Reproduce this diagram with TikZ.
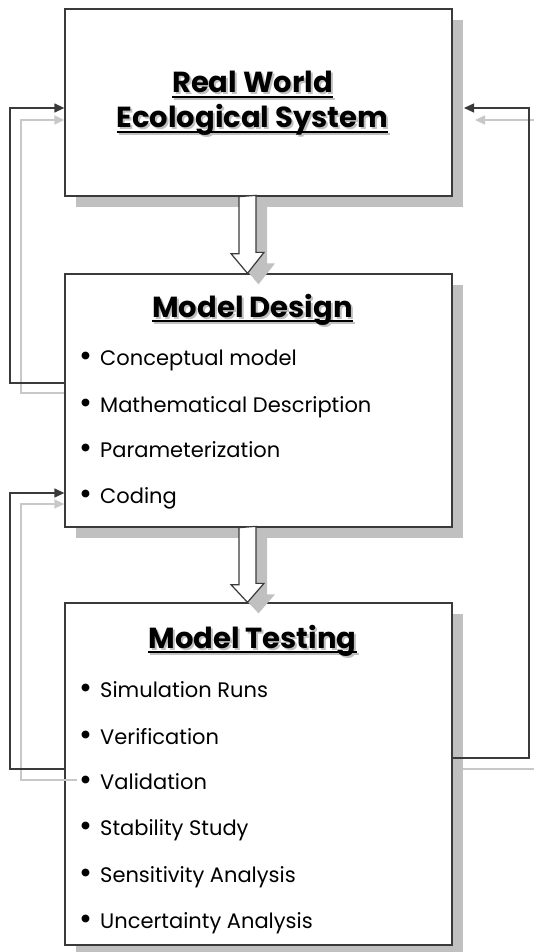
\documentclass[tikz,border=0pt]{standalone}
\usepackage{fontspec}
\setmainfont{Poppins}
\usetikzlibrary{arrows.meta,shadows}
\definecolor{shd}{HTML}{C0C0C0}
\definecolor{lgr}{HTML}{C8C8C8}
\definecolor{edge}{HTML}{3A3A3A}
\newcommand\ulttl[1]{\setbox0\hbox{#1}\rlap{\rule[-5pt]{\wd0}{2.2pt}}\box0}
\newcommand\shttl[1]{\rlap{\hspace{2pt}\raisebox{-2pt}{\color{shd}\ulttl{#1}}}\ulttl{#1}}
\newcommand\bul{\llap{\raisebox{-1.2pt}{\scalebox{1.5}{\textbullet}}\hspace{8pt}}}
\begin{document}
\begin{tikzpicture}[x=1pt,y=-1pt,
  box/.style={draw=edge,line width=1.3pt,fill=white,minimum width=387pt,inner sep=0pt,
    drop shadow={shadow xshift=11pt,shadow yshift=-11pt,fill=shd,opacity=1,draw=none}},
  hollow/.style={draw=edge,line width=1.2pt,fill=white,
    drop shadow={shadow xshift=11pt,shadow yshift=-11pt,fill=shd,opacity=1,draw=none}},
  ttl/.style={font=\fontsize{29}{35}\selectfont\bfseries,inner sep=0pt,anchor=base,align=center},
  itm/.style={font=\fontsize{21}{24}\selectfont,inner sep=0pt,anchor=base west},
  fb/.style={line width=1.3pt,draw=edge,-{Triangle[length=10pt,width=9pt]}},
  fg/.style={line width=1.5pt,draw=lgr,-{Triangle[length=10pt,width=9pt]}},
  fgl/.style={line width=1.5pt,draw=lgr}]
\useasboundingbox (0,0) rectangle (534,952);
% boxes
\node[box,minimum height=187pt] (b1) at (258.5,102.5) {};
\node[box,minimum height=253pt] (b2) at (258.5,400.5) {};
\node[box,minimum height=342pt] (b3) at (258.5,774) {};
% hollow arrows
\draw[hollow] ([xshift=-8.5pt]b1.south -| 247.5,0) -- ++(0,57) -- ++(-8,0) -- (b2.north -| 247.5,0) -- ++(16.5,-21) -- ++(-8,0) -- ++(0,-57) -- cycle;
\draw[hollow] ([xshift=-8.5pt]b2.south -| 247.5,0) -- ++(0,57) -- ++(-8,0) -- (b3.north -| 247.5,0) -- ++(16.5,-19) -- ++(-8,0) -- ++(0,-57) -- cycle;
% titles
\node[ttl] (t1) at (252.5,128) {\shttl{Real World}\\\shttl{Ecological System}};
\node[ttl] (t3) at (252.5,317) {\shttl{Model Design}};
\node[ttl] (t4) at (252.5,648) {\shttl{Model Testing}};
% items
\node[itm] (d1) at (100,365) {\bul Conceptual model};
\node[itm] (d2) at (100,412) {\bul Mathematical Description};
\node[itm] (d3) at (100,457) {\bul Parameterization};
\node[itm] (d4) at (100,503) {\bul Coding};
\node[itm] (e1) at (100,697) {\bul Simulation Runs};
\node[itm] (e2) at (100,744) {\bul Verification};
\node[itm] (e3) at (100,789) {\bul Validation};
\node[itm] (e4) at (100,835) {\bul Stability Study};
\node[itm] (e5) at (100,882) {\bul Sensitivity Analysis};
\node[itm] (e6) at (100,928) {\bul Uncertainty Analysis};
% feedback coordinates
\coordinate (L1a) at (10,383); \coordinate (L1b) at (10,108);
\coordinate (G1a) at (21,393); \coordinate (G1b) at (21,120);
\coordinate (L2a) at (10,769); \coordinate (L2b) at (10,493);
\coordinate (G2s) at (77,780); \coordinate (G2a) at (21,780); \coordinate (G2b) at (21,504);
\coordinate (R1a) at (529,758); \coordinate (R1b) at (529,108);
\coordinate (Rtip) at (464,108);
\coordinate (GRs) at (534,120); \coordinate (GRt) at (475,120);
\coordinate (GBs) at (463,769); \coordinate (GBe) at (534,769);
% left loops
\draw[fg] (b2.west |- G1a) -- (G1a) -- (G1b) -- (b1.west |- G1b);
\draw[fb] (b2.west |- L1a) -- (L1a) -- (L1b) -- (b1.west |- L1b);
\draw[fg] (G2s) -- (G2a) -- (G2b) -- (b2.west |- G2b);
\draw[fb] (b3.west |- L2a) -- (L2a) -- (L2b) -- (b2.west |- L2b);
% right loop
\draw[fg] (GRs) -- (GRt);
\draw[fgl] (GBs) -- (GBe);
\draw[fb] (b3.east |- R1a) -- (R1a) -- (R1b) -- (Rtip);
\end{tikzpicture}
\end{document}
